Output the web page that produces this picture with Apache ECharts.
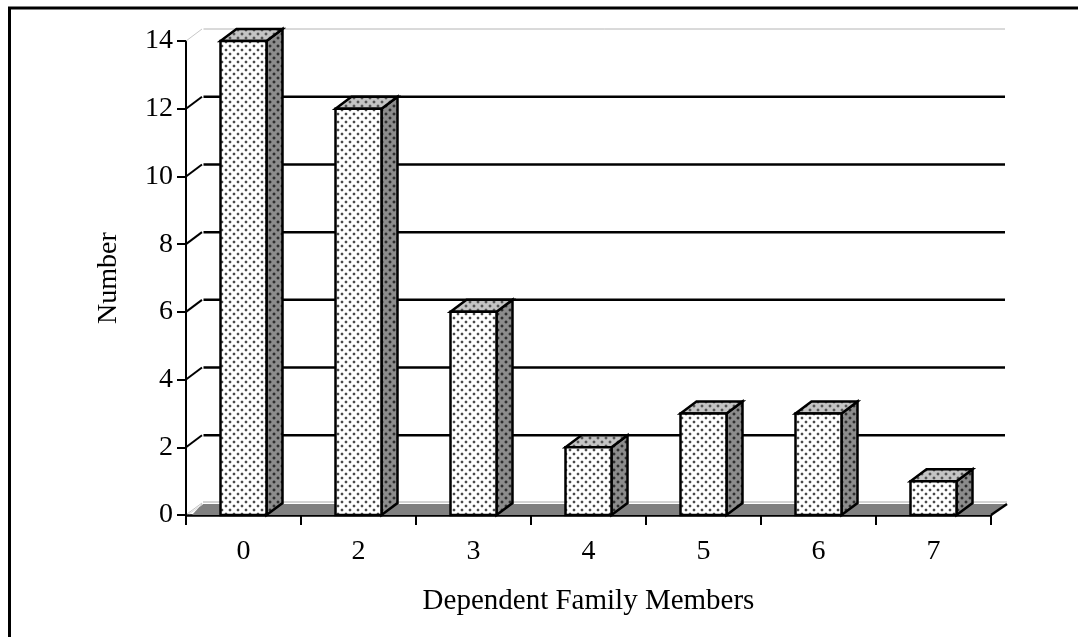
<!DOCTYPE html>
<html>
<head>
<meta charset="utf-8">
<style>
  html, body { margin: 0; padding: 0; background: #fff; }
  #chart { width: 1078px; height: 637px; }
</style>
<script src="https://cdn.jsdelivr.net/npm/echarts@6/dist/echarts.min.js"></script>
</head>
<body>
<div id="chart"></div>
<script>
// Respondents by number of dependent family members
const categories = ['0', '2', '3', '4', '5', '6', '7'];
const counts = [14, 12, 6, 2, 3, 3, 1];
const gridValues = [2, 4, 6, 8, 10, 12, 14];

// Oblique offset of the back wall relative to the front plane, in pixels
const DEPTH_X = 16;
const DEPTH_Y = -12;
const FLOOR_INSET = 6;
const FLOOR_DEPTH_Y = -11;
const BAR_WIDTH_RATIO = 0.4;
const FONT = '"Liberation Serif", "Times New Roman", serif';

// Staggered dot screen used on the faces of the bars
function dotPattern(background, halo, dot) {
  const c = document.createElement('canvas');
  c.width = 8; c.height = 8;
  const g = c.getContext('2d');
  g.fillStyle = background;
  g.fillRect(0, 0, 8, 8);
  [[2, 2], [6, 6]].forEach(function (p) {
    g.fillStyle = halo;
    g.fillRect(p[0] - 1, p[1] - 2, 2, 4);
    g.fillRect(p[0] - 2, p[1] - 1, 4, 2);
    g.fillStyle = dot;
    g.fillRect(p[0] - 1, p[1] - 1, 2, 2);
  });
  return { type: 'pattern', image: c, repeat: 'repeat' };
}
const frontFill = dotPattern('#ffffff', '#d6d6d6', '#4a4a4a');
const sideFill = dotPattern('#8c8c8c', '#6e6e6e', '#2e2e2e');
const topFill = dotPattern('#c4c4c4', '#a4a4a4', '#555555');

const chart = echarts.init(document.getElementById('chart'), null, { renderer: 'canvas' });

function renderFloor(params, api) {
  const y = api.coord([0, 0])[1];
  const left = params.coordSys.x;
  const right = left + params.coordSys.width;
  return {
    type: 'group',
    children: [
      { type: 'polygon',
        shape: { points: [[left + FLOOR_INSET, y], [left + DEPTH_X, y + FLOOR_DEPTH_Y], [right + DEPTH_X, y + FLOOR_DEPTH_Y], [right, y]] },
        style: { fill: '#808080' } },
      { type: 'line', shape: { x1: left + DEPTH_X + 1, y1: y + DEPTH_Y - 1, x2: right + DEPTH_X, y2: y + DEPTH_Y - 1 },
        style: { stroke: '#a8a8a8', lineWidth: 1 } },
      { type: 'line', shape: { x1: left + 1, y1: y - 1, x2: left + DEPTH_X, y2: y + DEPTH_Y },
        style: { stroke: '#c4c4c4', lineWidth: 1 } },
      { type: 'line', shape: { x1: left + 3, y1: y - 1, x2: left + DEPTH_X + 1, y2: y + FLOOR_DEPTH_Y },
        style: { stroke: '#dddddd', lineWidth: 1 } },
      { type: 'line', shape: { x1: right, y1: y, x2: right + DEPTH_X, y2: y + FLOOR_DEPTH_Y },
        style: { stroke: '#000', lineWidth: 2.5 } }
    ]
  };
}

function renderWallLine(params, api) {
  const p = api.coord([0, api.value(0)]);
  const left = params.coordSys.x;
  const right = left + params.coordSys.width;
  const isTop = params.dataIndex === gridValues.length - 1;
  const width = isTop ? 1 : 2.5;
  return {
    type: 'group',
    children: [
      { type: 'line', shape: { x1: left, y1: p[1], x2: left + DEPTH_X, y2: p[1] + DEPTH_Y },
        style: { stroke: isTop ? '#c8c8c8' : '#000', lineWidth: isTop ? 1 : 2 } },
      { type: 'line', shape: { x1: left + DEPTH_X + 1.5, y1: p[1] + DEPTH_Y, x2: right + DEPTH_X - 2, y2: p[1] + DEPTH_Y },
        style: { stroke: isTop ? '#b4b4b4' : '#000', lineWidth: width } }
    ]
  };
}

function renderBar(params, api) {
  const top = api.coord([api.value(0), api.value(1)]);
  const base = api.coord([api.value(0), 0]);
  const w = api.size([1, 0])[0] * BAR_WIDTH_RATIO;
  const x0 = top[0] - w / 2;
  const x1 = top[0] + w / 2;
  const yT = top[1];
  const yB = base[1];
  const outline = { stroke: '#000', lineWidth: 2.5, lineJoin: 'miter' };
  return {
    type: 'group',
    children: [
      { type: 'polygon',
        shape: { points: [[x1, yT], [x1 + DEPTH_X, yT + DEPTH_Y], [x1 + DEPTH_X, yB + DEPTH_Y], [x1, yB]] },
        style: Object.assign({ fill: sideFill }, outline) },
      { type: 'polygon',
        shape: { points: [[x0, yT], [x0 + DEPTH_X, yT + DEPTH_Y], [x1 + DEPTH_X, yT + DEPTH_Y], [x1, yT]] },
        style: Object.assign({ fill: topFill }, outline) },
      { type: 'rect',
        shape: { x: x0, y: yT, width: x1 - x0, height: yB - yT },
        style: Object.assign({ fill: frontFill }, outline) }
    ]
  };
}

chart.setOption({
  animation: false,
  backgroundColor: '#ffffff',
  graphic: [
    // Frame along the top and left of the figure
    { type: 'polyline', silent: true, z: 10,
      shape: { points: [[9.5, 637], [9.5, 8], [1078, 8]] },
      style: { stroke: '#000', lineWidth: 3, fill: null } }
  ],
  grid: { left: 186, right: 87, top: 41, bottom: 122, containLabel: false },
  xAxis: {
    type: 'category',
    data: categories,
    boundaryGap: true,
    name: 'Dependent Family Members',
    nameLocation: 'middle',
    nameGap: 72,
    nameTextStyle: { fontFamily: FONT, fontSize: 29, color: '#000' },
    axisLine: { show: true, lineStyle: { color: '#000', width: 2.5 } },
    axisTick: { show: true, length: 10, lineStyle: { color: '#000', width: 2 } },
    axisLabel: { fontFamily: FONT, fontSize: 28, color: '#000', margin: 23 },
    splitLine: { show: false }
  },
  yAxis: {
    type: 'value',
    min: 0,
    max: 14,
    interval: 2,
    name: 'Number',
    nameLocation: 'middle',
    nameGap: 63,
    nameRotate: 90,
    nameTextStyle: { fontFamily: FONT, fontSize: 28, color: '#000' },
    axisLine: { show: true, lineStyle: { color: '#000', width: 2 } },
    axisTick: { show: true, length: 9, lineStyle: { color: '#000', width: 2 } },
    axisLabel: { fontFamily: FONT, fontSize: 28, color: '#000', margin: 13 },
    splitLine: { show: false }
  },
  series: [
    { type: 'custom', name: 'Floor', coordinateSystem: 'cartesian2d', clip: false, z: 1,
      renderItem: renderFloor, data: [[0]], encode: { x: 0 }, silent: true },
    { type: 'custom', name: 'Wall', coordinateSystem: 'cartesian2d', clip: false, z: 2,
      renderItem: renderWallLine, data: gridValues.map(v => [v]), encode: { y: 0 }, silent: true },
    { type: 'custom', name: 'Number', coordinateSystem: 'cartesian2d', clip: false, z: 3,
      renderItem: renderBar,
      data: counts.map((v, i) => [i, v]),
      encode: { x: 0, y: 1 } }
  ]
});
</script>
</body>
</html>
